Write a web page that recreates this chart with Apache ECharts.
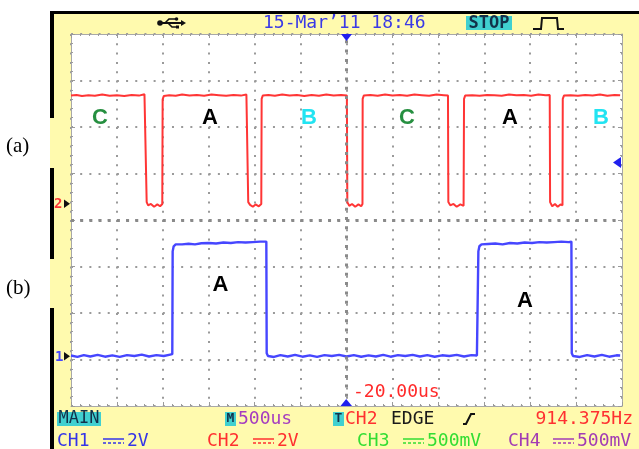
<!DOCTYPE html>
<html><head><meta charset="utf-8">
<script src="https://cdn.jsdelivr.net/npm/echarts@6/dist/echarts.min.js"></script>
<style>html,body{margin:0;padding:0;background:#fff}#c{width:639px;height:449px}</style>
</head><body><div id="c"></div>
<script>
// ---- data (time in microseconds, 500 us/div; voltages in volts, 2 V/div) ----
const timeMin = -3000, timeMax = 3000, timeStep = 500;
const divMin = -4, divMax = 4;

// CH2 (red) trace
const ch2Trace = [
[-3000,4.64],[-2940,4.67],[-2880,4.62],[-2810,4.66],[-2740,4.63],[-2660,4.69],[-2580,4.63],[-2500,4.66],[-2420,4.62],[-2340,4.67],[-2260,4.64],[-2200,4.7],[-2180,4.66],
[-2176,0.06],[-2160,-0.08],[-2130,-0.02],[-2095,-0.14],[-2060,-0.04],[-2030,-0.12],[-2006,-0.02],
[-2002,4.48],[-1990,4.62],[-1930,4.66],[-1860,4.63],[-1790,4.69],[-1710,4.64],[-1630,4.67],[-1550,4.63],[-1470,4.69],[-1390,4.66],[-1310,4.63],[-1230,4.67],[-1150,4.64],[-1090,4.69],[-1072,4.66],
[-1070,0.06],[-1050,-0.06],[-1020,-0.14],[-990,-0.04],[-955,-0.12],[-928,-0.02],
[-924,4.5],[-912,4.64],[-850,4.67],[-780,4.63],[-700,4.69],[-620,4.64],[-540,4.67],[-460,4.62],[-380,4.67],[-300,4.63],[-220,4.69],[-140,4.64],[-60,4.67],[4,4.64],
[9,0.06],[30,-0.1],[60,-0.02],[95,-0.14],[130,-0.04],[160,-0.12],[174,-0.02],
[176,4.5],[188,4.64],[260,4.67],[340,4.63],[420,4.69],[500,4.64],[580,4.67],[660,4.63],[740,4.69],[820,4.66],[900,4.63],[980,4.69],[1060,4.66],[1105,4.64],
[1109,0.06],[1130,-0.08],[1165,-0.02],[1200,-0.14],[1240,-0.04],[1275,-0.1],
[1280,4.5],[1292,4.64],[1370,4.66],[1450,4.63],[1530,4.67],[1610,4.66],[1690,4.63],[1770,4.69],[1850,4.66],[1930,4.67],[2010,4.63],[2090,4.69],[2170,4.66],[2213,4.67],
[2217,0.06],[2240,-0.12],[2270,-0.02],[2300,-0.14],[2330,-0.04],[2352,-0.08],
[2355,4.5],[2368,4.64],[2440,4.66],[2520,4.63],[2600,4.67],[2680,4.64],[2760,4.69],[2840,4.63],[2920,4.67],[2980,4.66]
];

// CH1 (blue) trace
const ch1Trace = [
[-3000,0.02],[-2930,-0.04],[-2860,0.04],[-2790,-0.02],[-2710,0.05],[-2630,-0.03],[-2550,0.03],[-2470,-0.04],[-2390,0.04],[-2310,0.0],[-2230,0.06],[-2150,-0.02],[-2070,0.04],[-1990,0.0],[-1920,0.06],[-1897,0.08],
[-1893,4.5],[-1882,4.72],[-1860,4.8],[-1790,4.8],[-1720,4.83],[-1650,4.8],[-1580,4.85],[-1500,4.86],[-1420,4.84],[-1340,4.88],[-1260,4.86],[-1180,4.9],[-1100,4.88],[-1020,4.9],[-940,4.92],[-873,4.92],
[-869,0.12],[-855,0.0],[-790,-0.04],[-720,0.04],[-640,-0.02],[-560,0.05],[-480,-0.03],[-400,0.03],[-320,-0.04],[-240,0.04],[-160,0.0],[-80,0.05],[0,-0.02],[80,0.04],[160,-0.03],[240,0.03],[320,-0.02],[400,0.05],[480,-0.03],[560,0.04],[640,0.0],[720,0.05],[800,-0.02],[880,0.04],[960,-0.03],[1040,0.03],[1120,0.0],[1200,0.05],[1280,-0.02],[1360,0.04],[1420,0.02],[1432,0.06],
[1436,4.5],[1447,4.72],[1470,4.8],[1540,4.82],[1620,4.84],[1700,4.8],[1780,4.86],[1860,4.84],[1940,4.88],[2020,4.86],[2100,4.9],[2180,4.88],[2260,4.9],[2340,4.92],[2420,4.9],[2449,4.92],
[2453,0.12],[2467,0.0],[2540,-0.04],[2620,0.04],[2700,-0.02],[2780,0.05],[2860,-0.03],[2940,0.03],[2980,0.02]
];

// channel ground positions (in divisions from screen centre) and volts/div
const ch1GroundDiv = -2.925, ch2GroundDiv = 0.355, voltsPerDiv = 2;

// annotation letters (time, division)
const redLetters = ['C','A','B','C','A','B'];
const redLetterTimes = [-2685,-1487,-408,659,1781,2772];
const redLetterDiv = 2.2;
const blueLetters = ['A','A'];
const blueLetterTimes = [-1373,1944];
const blueLetterDivs = [-1.4,-1.74];

// screen texts
const dateText = '15-Mar’11 18:46';
const stopText = 'STOP';
const mainText = 'MAIN';
const timebaseText = '500us';
const trigSource = 'CH2';
const trigType = 'EDGE';
const freqText = '914.375Hz';
const delayText = '-20.00us';
const chanNames = ['CH1','CH2','CH3','CH4'];
const chanScales = ['2V','2V','500mV','500mV'];
const panelLabels = ['(a)','(b)'];

// ---- styles ----
const FONT = '"DejaVu Sans Mono", monospace';
const YEL = '#fffaae', CYAN = '#40d0d0';
const RED = '#ff3535', BLUE = '#4646ff', GRIDC = '#9a9a9a';
const chanColors = ['#3535e8','#ff3030','#33dd33','#a23cb4'];
const letterColors = {C:'#268f40', A:'#000000', B:'#22e4f2'};

const chart = echarts.init(document.getElementById('c'), null, {renderer:'canvas'});

const gridL = 71, gridT = 34, gridW = 551, gridH = 372;

function xAxisDef(pos, split) {
  return {type:'value', min:timeMin, max:timeMax, interval:timeStep, position:pos,
    axisLine:{show:true, onZero:false, lineStyle:{color:'#a8a8a8', width:1}},
    axisTick:{show:true, inside:true, length:4, lineStyle:{color:GRIDC}},
    minorTick:{show:true, splitNumber:5, length:2, lineStyle:{color:GRIDC}},
    axisLabel:{show:false},
    splitLine:{show:split, lineStyle:{color:GRIDC, width:2, type:[2,7.3]}}};
}
function yAxisDef(pos, split) {
  return {type:'value', min:divMin, max:divMax, interval:1, position:pos,
    axisLine:{show:true, onZero:false, lineStyle:{color:'#a8a8a8', width:1}},
    axisTick:{show:true, inside:true, length:4, lineStyle:{color:GRIDC}},
    minorTick:{show:true, splitNumber:5, length:2, lineStyle:{color:GRIDC}},
    axisLabel:{show:false},
    splitLine:{show:split, lineStyle:{color:GRIDC, width:2, type:[2,7.18]}}};
}
function chanAxis(groundDiv) {
  return {type:'value', show:false, min:(divMin-groundDiv)*voltsPerDiv, max:(divMax-groundDiv)*voltsPerDiv,
    splitLine:{show:false}, axisLine:{show:false}};
}

const letterData = [];
redLetters.forEach((l,i)=>letterData.push({value:[redLetterTimes[i], redLetterDiv], label:{formatter:l, color:letterColors[l]}}));
blueLetters.forEach((l,i)=>letterData.push({value:[blueLetterTimes[i], blueLetterDivs[i]], label:{formatter:l, color:letterColors[l]}}));

function txt(x, y, s, color, opts) {
  return Object.assign({type:'text', x:x, y:y, z:50, style:Object.assign({text:s, fill:color, font:'18px ' + FONT, align:'left', verticalAlign:'middle'}, opts||{})});
}
function box(x, y, w, h, color) {
  return {type:'rect', z:40, shape:{x:x, y:y, width:w, height:h}, style:{fill:color}};
}
function dcSym(x, y, color) {
  return [
    {type:'line', z:50, shape:{x1:x, y1:y-2, x2:x+21, y2:y-2}, style:{stroke:color, lineWidth:1.5}},
    {type:'line', z:50, shape:{x1:x, y1:y+2, x2:x+21, y2:y+2}, style:{stroke:color, lineWidth:1.5, lineDash:[3,2]}}
  ];
}

const row1 = 419, row2 = 441;
const graphics = [
  {type:'rect', z:1, shape:{x:0, y:0, width:50, height:449}, style:{fill:'#fff'}},
  {type:'rect', z:1, shape:{x:0, y:0, width:639, height:11}, style:{fill:'#fff'}},
  {type:'rect', z:2, shape:{x:50, y:11, width:589, height:3}, style:{fill:'#000'}},
  {type:'rect', z:2, shape:{x:50, y:11, width:4, height:107}, style:{fill:'#000'}},
  {type:'rect', z:2, shape:{x:50, y:168, width:4, height:91}, style:{fill:'#000'}},
  {type:'rect', z:2, shape:{x:50, y:308, width:4, height:141}, style:{fill:'#000'}},
  {type:'text', z:5, x:6, y:146, style:{text:panelLabels[0], fill:'#000', font:'21px "Liberation Serif", serif', verticalAlign:'middle'}},
  {type:'text', z:5, x:6, y:288, style:{text:panelLabels[1], fill:'#000', font:'21px "Liberation Serif", serif', verticalAlign:'middle'}},
  // top bar
  txt(263, 23, dateText, '#3a3ae6'),
  box(466, 16, 46, 14, CYAN),
  txt(489, 23.5, stopText, '#12314a', {align:'center', font:'bold 17px ' + FONT}),
  // pulse icon
  {type:'polyline', z:50, shape:{points:[[533,29],[541,29],[542,18],[557,18],[558,29],[564,29]]}, style:{stroke:'#111', lineWidth:2, fill:null}},
  // usb icon
  {type:'circle', z:50, shape:{cx:160, cy:23, r:2.8}, style:{fill:'#111'}},
  {type:'line', z:50, shape:{x1:160, y1:23, x2:181, y2:23}, style:{stroke:'#111', lineWidth:2}},
  {type:'polygon', z:50, shape:{points:[[181,20],[186,23],[181,26]]}, style:{fill:'#111'}},
  {type:'polyline', z:50, shape:{points:[[165,23],[169,19],[175,19]]}, style:{stroke:'#111', lineWidth:1.6, fill:null}},
  {type:'circle', z:50, shape:{cx:176.5, cy:19, r:1.8}, style:{fill:'#111'}},
  {type:'polyline', z:50, shape:{points:[[168,23],[172,27],[177,27]]}, style:{stroke:'#111', lineWidth:1.6, fill:null}},
  {type:'rect', z:50, shape:{x:176, y:25.5, width:3, height:3}, style:{fill:'#111'}},
  // markers
  {type:'polygon', z:50, shape:{points:[[341,34],[352,34],[346.5,41]]}, style:{fill:'#2020ee'}},
  {type:'polygon', z:50, shape:{points:[[340.5,406],[352,406],[346.2,399]]}, style:{fill:'#2020ee'}},
  {type:'polygon', z:50, shape:{points:[[621,157],[621,168],[613,162.5]]}, style:{fill:'#2020ee'}},
  txt(54, 204, '2', RED, {font:'bold 14px ' + FONT}),
  {type:'polygon', z:50, shape:{points:[[64,199.5],[64,208],[70,203.7]]}, style:{fill:'#111'}},
  txt(55, 357, '1', BLUE, {font:'bold 14px ' + FONT}),
  {type:'polygon', z:50, shape:{points:[[64,352],[64,360.5],[70,356.2]]}, style:{fill:'#111'}},
  txt(353, 392, delayText, '#ff2a2a'),
  // status row 1
  box(57, 412, 44, 14, CYAN),
  txt(79, row1, mainText, '#12314a', {align:'center', font:'17px ' + FONT}),
  box(225, 412, 11, 14, CYAN),
  txt(230.5, row1, 'M', '#12314a', {align:'center', font:'bold 13px ' + FONT}),
  txt(238, row1, timebaseText, '#a53cc0'),
  box(333, 412, 11, 14, CYAN),
  txt(338.5, row1, 'T', '#12314a', {align:'center', font:'bold 13px ' + FONT}),
  txt(345, row1, trigSource, '#ff3030'),
  txt(391, row1, trigType, '#1a1a1a'),
  {type:'polyline', z:50, shape:{points:[[463,424],[466,424],[471,414],[475,414]]}, style:{stroke:'#111', lineWidth:2, fill:null}},
  txt(633, row1, freqText, '#ff3030', {align:'right'}),
  // status row 2
  txt(57, row2, chanNames[0], chanColors[0]), ...dcSym(103, row2, chanColors[0]), txt(127, row2, chanScales[0], chanColors[0]),
  txt(207, row2, chanNames[1], chanColors[1]), ...dcSym(253, row2, chanColors[1]), txt(277, row2, chanScales[1], chanColors[1]),
  txt(357, row2, chanNames[2], chanColors[2]), ...dcSym(403, row2, chanColors[2]), txt(427, row2, chanScales[2], chanColors[2]),
  txt(508, row2, chanNames[3], chanColors[3]), ...dcSym(553, row2, chanColors[3]), txt(577, row2, chanScales[3], chanColors[3])
];

chart.setOption({
  animation:false,
  backgroundColor:YEL,
  grid:{left:gridL, top:gridT, width:gridW, height:gridH, show:true, backgroundColor:'#fff', borderWidth:0},
  xAxis:[xAxisDef('bottom', true), xAxisDef('top', false)],
  yAxis:[yAxisDef('left', true), yAxisDef('right', false), chanAxis(ch1GroundDiv), chanAxis(ch2GroundDiv)],
  graphic:graphics,
  series:[
    {type:'line', xAxisIndex:0, yAxisIndex:0, data:[], z:1, silent:true,
      markLine:{silent:true, symbol:'none', label:{show:false}, animation:false,
        data:[
          {xAxis:0, lineStyle:{color:'#8a8a8a', width:3, type:[3,6.3]}},
          {yAxis:0, lineStyle:{color:'#8a8a8a', width:3, type:[3,6.18]}}
        ]}},
    {type:'line', xAxisIndex:0, yAxisIndex:3, data:ch2Trace, showSymbol:false, symbol:'none', z:3,
      lineStyle:{color:RED, width:2}},
    {type:'line', xAxisIndex:0, yAxisIndex:2, data:ch1Trace, showSymbol:false, symbol:'none', z:3,
      lineStyle:{color:BLUE, width:2.4}},
    {type:'scatter', xAxisIndex:0, yAxisIndex:0, data:letterData, symbol:'circle', symbolSize:1, z:4,
      itemStyle:{color:'rgba(0,0,0,0)', opacity:1},
      label:{show:true, position:'inside', opacity:1, fontSize:22, fontWeight:'bold', fontFamily:'"Liberation Sans", Arial, sans-serif'}}
  ]
});
</script></body></html>
